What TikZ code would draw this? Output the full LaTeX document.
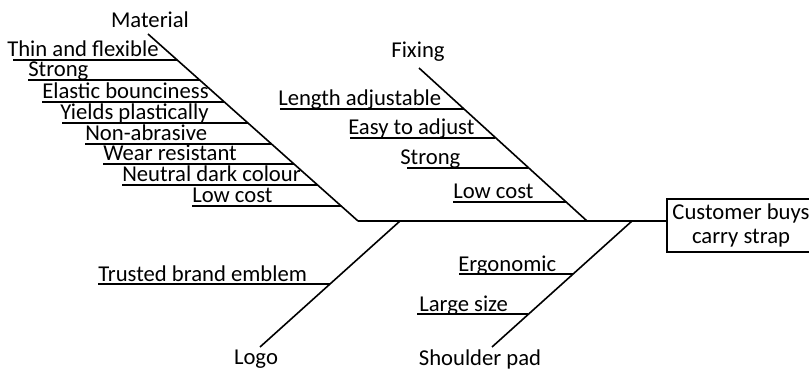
\documentclass[tikz,border=0pt]{standalone}
\usepackage{fontspec}
\setmainfont{Carlito}
\begin{document}
\begin{tikzpicture}[x=0.75pt,y=-0.75pt,
  bone/.style={line width=1.2pt},
  rib/.style={line width=1.4pt},
  txt/.style={font=\fontsize{17}{19}\selectfont},
  lbl/.style={txt, inner sep=0pt, anchor=base west},
  cat/.style={txt, inner sep=0pt},
  effect/.style={draw, line width=1.8pt, align=center, inner sep=0pt,
    font=\fontsize{17}{17.5}\selectfont,
    minimum width=111pt, minimum height=39.75pt}]
\useasboundingbox (0,0) rectangle (809,370);

% head of the fish
\node[effect] (head) at (741,225.5) {Customer buys\\carry strap};

% spine
\coordinate (s0) at (358,221);
\coordinate (s1) at (head.west |- s0);
\draw[bone] (s0) -- (s1);

% main bones
\coordinate (m0) at (148,34);
\coordinate (f0) at (419,68);  \coordinate (f1) at (587,221);
\coordinate (l0) at (260,347); \coordinate (l1) at (400,221);
\coordinate (p0) at (492,347); \coordinate (p1) at (632,221);
\draw[bone] (m0) -- (s0);
\draw[bone] (f0) -- (f1);
\draw[bone] (l0) -- (l1);
\draw[bone] (p0) -- (p1);

% category labels
\node[cat] (cm) at (150,20) {Material};
\node[cat] (cf) at (418,52) {Fixing};
\node[cat] (cl) at (256,359) {Logo};
\node[cat] (cp) at (480,359) {Shoulder pad};

% Material causes
\coordinate (ma1) at (13,60);   \coordinate (mb1) at (177,60);
\coordinate (ma2) at (28,80);   \coordinate (mb2) at (200,80);
\coordinate (ma3) at (42,102);  \coordinate (mb3) at (224,102);
\coordinate (ma4) at (62,123);  \coordinate (mb4) at (248,123);
\coordinate (ma5) at (85,144);  \coordinate (mb5) at (272,144);
\coordinate (ma6) at (103,164); \coordinate (mb6) at (294,164);
\coordinate (ma7) at (122,185); \coordinate (mb7) at (318,185);
\coordinate (ma8) at (192,206); \coordinate (mb8) at (341,206);
\foreach \i in {1,...,8} \draw[rib] (ma\i) -- (mb\i);
\node[lbl] (mt1) at (7,57)    {Thin and flexible};
\node[lbl] (mt2) at (28,77)   {Strong};
\node[lbl] (mt3) at (42,99)   {Elastic bounciness};
\node[lbl] (mt4) at (60,120)  {Yields plastically};
\node[lbl] (mt5) at (85,141)  {Non-abrasive};
\node[lbl] (mt6) at (103,161) {Wear resistant};
\node[lbl] (mt7) at (122,182) {Neutral dark colour};
\node[lbl] (mt8) at (192,203) {Low cost};

% Fixing causes
\coordinate (fa1) at (280,109); \coordinate (fb1) at (464,109);
\coordinate (fa2) at (350,138); \coordinate (fb2) at (495,138);
\coordinate (fa3) at (407,168); \coordinate (fb3) at (528,168);
\coordinate (fa4) at (453,202); \coordinate (fb4) at (566,202);
\foreach \i in {1,...,4} \draw[rib] (fa\i) -- (fb\i);
\node[lbl] (ft1) at (278,106) {Length adjustable};
\node[lbl] (ft2) at (348,135) {Easy to adjust};
\node[lbl] (ft3) at (400,165) {Strong};
\node[lbl] (ft4) at (453,199) {Low cost};

% Logo cause
\coordinate (la1) at (98,284); \coordinate (lb1) at (330,284);
\draw[rib] (la1) -- (lb1);
\node[lbl] (lt1) at (98,281) {Trusted brand emblem};

% Shoulder pad causes
\coordinate (pa1) at (459,274); \coordinate (pb1) at (573,274);
\coordinate (pa2) at (417,314); \coordinate (pb2) at (528,314);
\draw[rib] (pa1) -- (pb1);
\draw[rib] (pa2) -- (pb2);
\node[lbl] (pt1) at (458,271) {Ergonomic};
\node[lbl] (pt2) at (419,311) {Large size};
\end{tikzpicture}
\end{document}
